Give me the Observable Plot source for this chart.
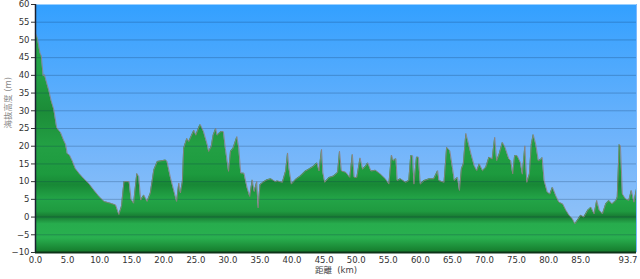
<!DOCTYPE html>
<html>
<head>
<meta charset="utf-8">
<script src="https://cdn.jsdelivr.net/npm/d3@7"></script>
<script src="https://cdn.jsdelivr.net/npm/@observablehq/plot@0.6"></script>
<style>
  html, body { margin: 0; padding: 0; background: #fff; }
  #chart svg { display: block; }
</style>
</head>
<body>
<div id="chart"></div>
<script>
const km = [0,0.15,0.3,0.7,0.9,1.2,1.4,1.6,2.1,2.45,2.85,3.3,3.6,3.9,4.4,4.7,4.95,5.3,5.7,6.2,6.8,7.5,8.3,9.1,9.9,10.7,11.7,12.5,13.0,13.4,13.8,14.6,14.9,15.3,15.8,16.1,16.4,16.9,17.4,17.9,18.45,19.0,20.3,20.5,21.06,21.6,22.0,22.35,22.6,22.9,23.1,23.6,23.9,24.7,25.0,25.5,25.7,26.2,26.8,27.0,27.4,27.7,28.1,28.3,28.9,29.3,29.6,30.1,30.4,30.8,31.4,31.7,32.0,32.5,33.0,33.4,33.8,34.1,34.5,34.7,35.0,35.6,36.1,36.7,37.4,37.7,38.5,39.0,39.3,39.5,39.9,40.6,41.3,42.1,42.6,43.4,43.9,44.2,44.6,44.8,45.1,45.8,46.5,47.1,47.4,47.7,48.4,49.0,49.4,49.7,50.1,50.6,51.0,51.5,51.8,52.3,53.0,53.8,54.6,55.1,55.5,55.8,56.2,56.4,56.9,57.7,58.2,58.5,58.8,59.0,59.4,59.7,60.0,60.6,61.4,62.1,62.7,62.9,63.7,64.1,64.6,65.0,65.3,65.8,66.1,66.4,66.7,67.1,67.4,67.9,68.4,68.8,69.2,69.7,70.2,70.7,71.2,71.6,71.9,72.3,72.8,73.2,73.8,74.1,74.4,74.7,75.1,75.6,75.9,76.3,76.6,77.0,77.3,77.6,78.0,78.4,78.8,79.0,79.3,79.8,80.2,80.6,81.1,81.6,82.2,82.7,83.2,83.7,84.1,84.5,85.0,85.5,86.1,86.6,87.1,87.5,87.9,88.4,88.9,89.4,89.9,90.5,90.7,91.0,91.2,91.5,92.0,92.5,92.9,93.3,93.7];
const elev = [51.8,51.2,50.5,46.3,45.5,39.8,40.2,38.8,35.6,32.8,30.4,25.3,24.5,23.9,21.6,20.5,17.9,17.5,16.0,13.7,12.3,10.9,9.5,7.6,5.8,4.4,3.9,3.4,0.7,3.0,10.0,10.0,5.0,3.9,12.3,11.4,4.8,6.2,4.4,6.7,13.3,15.7,16.1,15.7,11.0,7.2,4.4,9.6,6.8,10.0,19.4,22.2,21.3,24.5,23.1,25.5,26.1,24.1,20.3,18.5,19.9,23.1,25.0,23.1,24.1,24.1,19.4,12.9,18.5,19.4,22.7,19.4,12.4,12.4,8.2,5.8,10.5,7.2,10.0,2.6,9.1,10.0,10.5,10.8,10.0,10.2,9.8,13,18.1,14,9.3,10.7,11.6,13,13.5,14.4,15.3,13,19.1,12.6,9.8,11.2,11.6,12.6,18.6,13,12.6,11.2,17.7,11.2,11.2,16.7,13.5,14.4,15.3,13,13.2,12.1,10.7,9.3,17.5,15.9,16.5,10.3,10.8,9.8,10.3,17.3,17.3,9.3,16.9,16.9,9.3,10.3,10.8,10.8,13.1,10.3,9.8,19.7,18.7,14.0,10.3,11.2,7.5,13.6,15.0,23.6,21.5,17.8,14.5,13.1,15.0,13.1,14.0,16.9,16.4,22.5,15.9,17.8,21.1,19.7,16.4,15.9,12.2,17.3,17.3,15.4,12.1,20.1,9.8,12.1,20.5,23.3,20.5,15.9,16.3,16.8,10.3,7.0,6.5,8.4,6.1,4.2,3.7,1.9,0.5,-0.5,-1.9,-0.9,0.5,0,1.9,2.8,0.9,4.7,1.9,0.9,3.7,4.7,3.7,4.7,5.6,20.5,20.1,6.5,5.1,4.7,7.5,4.2,7.9];
const xTicks = [0,5,10,15,20,25,30,35,40,45,50,55,60,65,70,75,80,85];
const xEndTick = [93.7];
const yTicks = [-10,-5,0,5,10,15,20,25,30,35,40,45,50,55,60];
const xTitle = "距離  (km)";
const yTitle = "海抜高度 (m)";

const data = km.map((k, i) => ({km: k, elev: elev[i]}));
const fmt1 = d3.format(".1f");

const plot = Plot.plot({
  width: 640,
  height: 279,
  marginLeft: 35,
  marginRight: 4,
  marginTop: 4,
  marginBottom: 27,
  x: {domain: [0, 93.7]},
  y: {domain: [-10, 60]},
  style: {fontFamily: "'DejaVu Sans', Verdana, 'Noto Sans CJK JP', sans-serif", fontSize: "8.5px", color: "#333", background: "#fff"},
  marks: [
    Plot.frame({fill: "url(#sky)"}),
    Plot.areaY(data, {x: "km", y1: -10, y2: "elev", fill: "url(#grass)"}),
    Plot.ruleY(yTicks.filter(v => v > -10 && v < 60), {stroke: "#0a2a50", strokeOpacity: 0.25}),
    Plot.lineY(data, {x: "km", y: "elev", stroke: "#8c8080", strokeWidth: 1, strokeOpacity: 0.85}),
    Plot.axisY({ticks: yTicks, tickSize: 4, tickPadding: 2, label: null, tickFormat: d3.format("d")}),
    Plot.axisX({ticks: xTicks, tickSize: 0, tickPadding: 4, tickFormat: fmt1, label: null}),
    Plot.axisX({ticks: xEndTick, tickSize: 0, tickPadding: 4, tickFormat: fmt1, label: null, textAnchor: "end", dx: 1}),
    Plot.ruleX([0], {stroke: "#1a2030", strokeWidth: 1.5}),
    Plot.ruleX([93.7], {stroke: "#7ab8ff"}),
    Plot.ruleY([-10], {stroke: "#0d3318", strokeWidth: 2}),
    Plot.text([yTitle], {text: d => d, frameAnchor: "left", dx: -27, rotate: -90, fill: "#888", fontSize: 8.5}),
    Plot.text([xTitle], {text: d => d, frameAnchor: "bottom", dy: 20, fill: "#444", fontSize: 8.5})
  ]
});

const ys = plot.scale("y");
const py = v => ys.apply(v);
const svg = d3.select(plot);
const defs = svg.insert("defs", ":first-child");
const sky = defs.append("linearGradient").attr("id", "sky")
  .attr("gradientUnits", "userSpaceOnUse").attr("x1", 0).attr("x2", 0)
  .attr("y1", py(60)).attr("y2", py(-10));
sky.append("stop").attr("offset", "0%").attr("stop-color", "#33a0ff");
sky.append("stop").attr("offset", "55%").attr("stop-color", "#70b4fb");
sky.append("stop").attr("offset", "100%").attr("stop-color", "#9cc6f6");

const grass = defs.append("linearGradient").attr("id", "grass")
  .attr("gradientUnits", "userSpaceOnUse").attr("x1", 0).attr("x2", 0)
  .attr("y1", py(60)).attr("y2", py(-10));
const gstops = [
  [50, "#26a648"], [40, "#22a044"], [30, "#1c8c38"], [20, "#23a044"],
  [12, "#1d9a3e"], [9, "#188836"], [5, "#23a547"], [1.5, "#1f9a40"],
  [0, "#187a32"], [-2, "#27ac4d"], [-6, "#29b04f"], [-10, "#157a2c"]
];
const span = py(-10) - py(60);
gstops.forEach(([v, c]) => {
  grass.append("stop").attr("offset", ((py(v) - py(60)) / span * 100) + "%").attr("stop-color", c);
});

document.getElementById("chart").appendChild(plot);
</script>
</body>
</html>
